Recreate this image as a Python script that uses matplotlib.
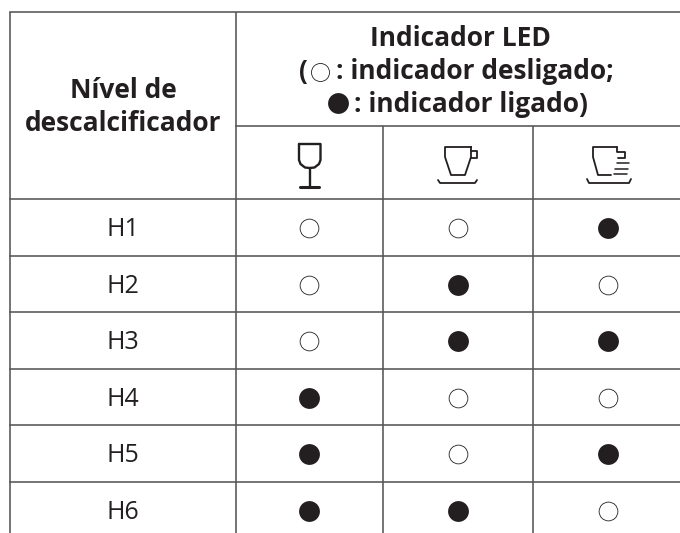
import matplotlib
matplotlib.use("Agg")
import matplotlib.pyplot as plt

levels = ["H1", "H2", "H3", "H4", "H5", "H6"]
led_glass = [0, 0, 0, 1, 1, 1]
led_cup = [0, 1, 1, 0, 0, 1]
led_cups = [1, 0, 1, 0, 1, 0]
header_left = ["Nível de", "descalcificador"]
header_top = "Indicador LED"
legend_off = ": indicador desligado;"
legend_on = ": indicador ligado)"

INK = "#231f20"
GRID = "#555555"
plt.rcParams["font.family"] = ["Open Sans", "Noto Sans", "DejaVu Sans"]

fig = plt.figure(figsize=(6.8, 5.33), dpi=100)
ax = fig.add_axes([0, 0, 1, 1])
ax.set_xlim(0, 680)
ax.set_ylim(533, 0)
ax.axis("off")

col_x = [10, 236, 382.5, 533, 690]
top, split, head = 12, 126, 199
row_h = 56.5
n = len(levels)
row_y = [head + i * row_h for i in range(n + 1)]
bottom = 540
lw = 1.15

for x in col_x[:2]:
    ax.plot([x, x], [top, bottom], color=GRID, lw=lw, solid_capstyle="butt")
for x in col_x[2:4]:
    ax.plot([x, x], [split, bottom], color=GRID, lw=lw, solid_capstyle="butt")
ax.plot([col_x[0], 680], [top, top], color=GRID, lw=lw)
ax.plot([col_x[1], 680], [split, split], color=GRID, lw=lw)
for y in row_y[:-1]:
    ax.plot([col_x[0], 680], [y, y], color=GRID, lw=lw)

centers = [309, 458, 608]
for i, (lab, states) in enumerate(zip(levels, zip(led_glass, led_cup, led_cups))):
    yc = row_y[i] + row_h / 2 + 1
    ax.text(123, yc + 8, lab, ha="center", va="baseline", fontsize=18, color=INK)
    for xc, s in zip(centers, states):
        if s:
            ax.plot(xc, yc, "o", ms=15, mfc=INK, mec=INK, mew=0)
        else:
            ax.plot(xc, yc, "o", ms=13.5, mfc="white", mec=INK, mew=0.6)

bold = dict(fontsize=19, fontweight="bold", color=INK, va="baseline")
ax.text(123, 98, header_left[0], ha="center", **bold)
ax.text(123, 131, header_left[1], ha="center", **bold)
ax.text(460, 46.5, header_top, ha="center", **bold)
ax.text(299, 79, "(", ha="left", **bold)
ax.plot(320, 72, "o", ms=13, mfc="white", mec=INK, mew=0.6)
ax.text(336, 79, legend_off, ha="left", **bold)
ax.plot(337.5, 103, "o", ms=15, mfc=INK, mec=INK, mew=0)
ax.text(354, 112, legend_on, ha="left", **bold)

ic = dict(color=INK, solid_capstyle="round", solid_joinstyle="round")
# glass
ax.plot([299, 299, 300.5, 305, 309.5, 314.5, 319, 320.5, 320.5, 299],
        [144, 160, 164, 167.5, 168, 167.5, 164, 160, 144, 144], lw=1.7, **ic)
ax.plot([309.5, 309.5], [168, 186], lw=1.7, **ic)
ax.plot([299.5, 319], [186.5, 186.5], lw=2.2, **ic)
# cup
ax.plot([471, 445, 445, 451, 465, 471, 471], [147, 147, 157, 175, 175, 157, 147], lw=1.3, **ic)
ax.plot([471, 477, 477, 471], [151, 151, 158, 158], lw=1.3, **ic)
ax.plot([438, 440, 475, 477], [180, 183, 183, 180], lw=1.3, **ic)
# cups
ax.plot([617, 593, 593, 598, 611], [147, 147, 157, 175, 175], lw=1.3, **ic)
ax.plot([617, 617, 625, 625, 618], [147, 152, 152, 158, 158], lw=1.3, **ic)
for y, x0, x1 in zip([163, 168.5, 174], [617, 615, 614], [629, 628, 627]):
    ax.plot([x0, x1], [y, y], lw=1.1, **ic)
ax.plot([587, 589, 629, 631], [179, 183, 183, 179], lw=1.3, **ic)

fig.savefig("out.png", dpi=100)
